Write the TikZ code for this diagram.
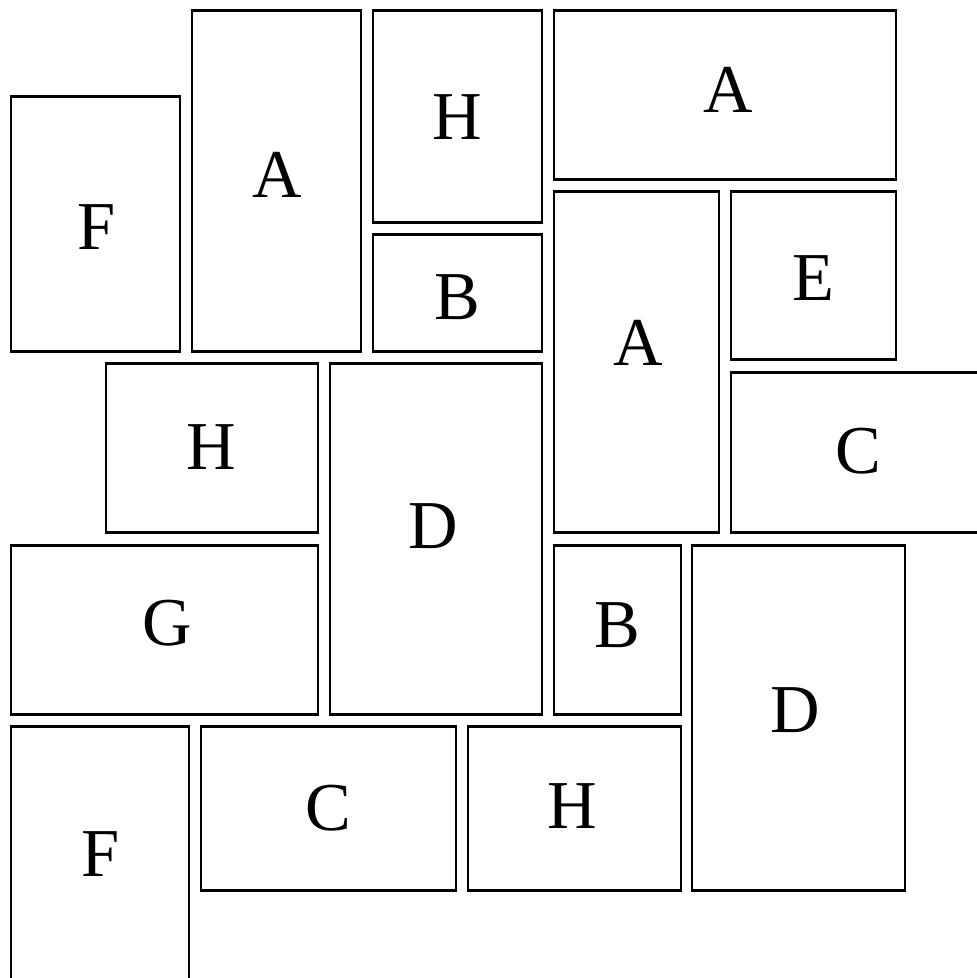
\documentclass[tikz,border=0pt]{standalone}
\usepackage{fontspec}
\setmainfont{Liberation Serif}
\usepackage{tikz}
\usetikzlibrary{positioning}
\tikzset{tile/.style = {draw, line width = 0.85pt}}
\tikzset{lbl/.style = {inner sep = 0, font = \fontsize{19.5}{22}\selectfont}}

\begin{document}
\begin{tikzpicture}[x=1mm, y=-1mm]
      \useasboundingbox (0,0) rectangle (97.7,97.8);
      \clip (0,0) rectangle (97.7,97.8);

      \draw[tile] (1.1,9.6) rectangle (18.0,35.1);
      \draw[tile] (19.2,1.0) rectangle (36.1,35.1);
      \draw[tile] (37.3,1.0) rectangle (54.2,22.2);
      \draw[tile] (37.3,23.4) rectangle (54.2,35.1);
      \draw[tile] (55.4,1.0) rectangle (89.6,17.9);
      \draw[tile] (55.4,19.1) rectangle (71.9,53.2);
      \draw[tile] (73.1,19.1) rectangle (89.6,35.9);
      \draw[tile] (73.1,37.2) rectangle (99.0,53.2);
      \draw[tile] (10.6,36.3) rectangle (31.8,53.2);
      \draw[tile] (33.0,36.3) rectangle (54.2,71.4);
      \draw[tile] (1.1,54.5) rectangle (31.8,71.4);
      \draw[tile] (55.4,54.5) rectangle (68.1,71.4);
      \draw[tile] (69.2,54.5) rectangle (90.5,89.0);
      \draw[tile] (1.1,72.6) rectangle (18.9,99.0);
      \draw[tile] (20.1,72.6) rectangle (45.6,89.0);
      \draw[tile] (46.8,72.6) rectangle (68.1,89.0);

      \node[lbl] (f1) at (9.7,22.7) {F};
      \node[lbl] (a1) at (27.7,17.5) {A};
      \node[lbl] (h1) at (45.7,11.7) {H};
      \node[lbl] (b1) at (45.7,29.7) {B};
      \node[lbl] (a2) at (72.8,9.0) {A};
      \node[lbl] (a3) at (63.8,34.3) {A};
      \node[lbl] (e1) at (81.3,27.8) {E};
      \node[lbl] (c1) at (85.8,45.1) {C};
      \node[lbl] (h2) at (21.1,44.7) {H};
      \node[lbl] (d1) at (43.3,52.6) {D};
      \node[lbl] (g1) at (16.7,62.3) {G};
      \node[lbl] (b2) at (61.7,62.5) {B};
      \node[lbl] (d2) at (79.5,71.0) {D};
      \node[lbl] (f2) at (10.1,85.4) {F};
      \node[lbl] (c2) at (32.8,80.8) {C};
      \node[lbl] (h3) at (57.2,80.6) {H};
\end{tikzpicture}
\end{document}
